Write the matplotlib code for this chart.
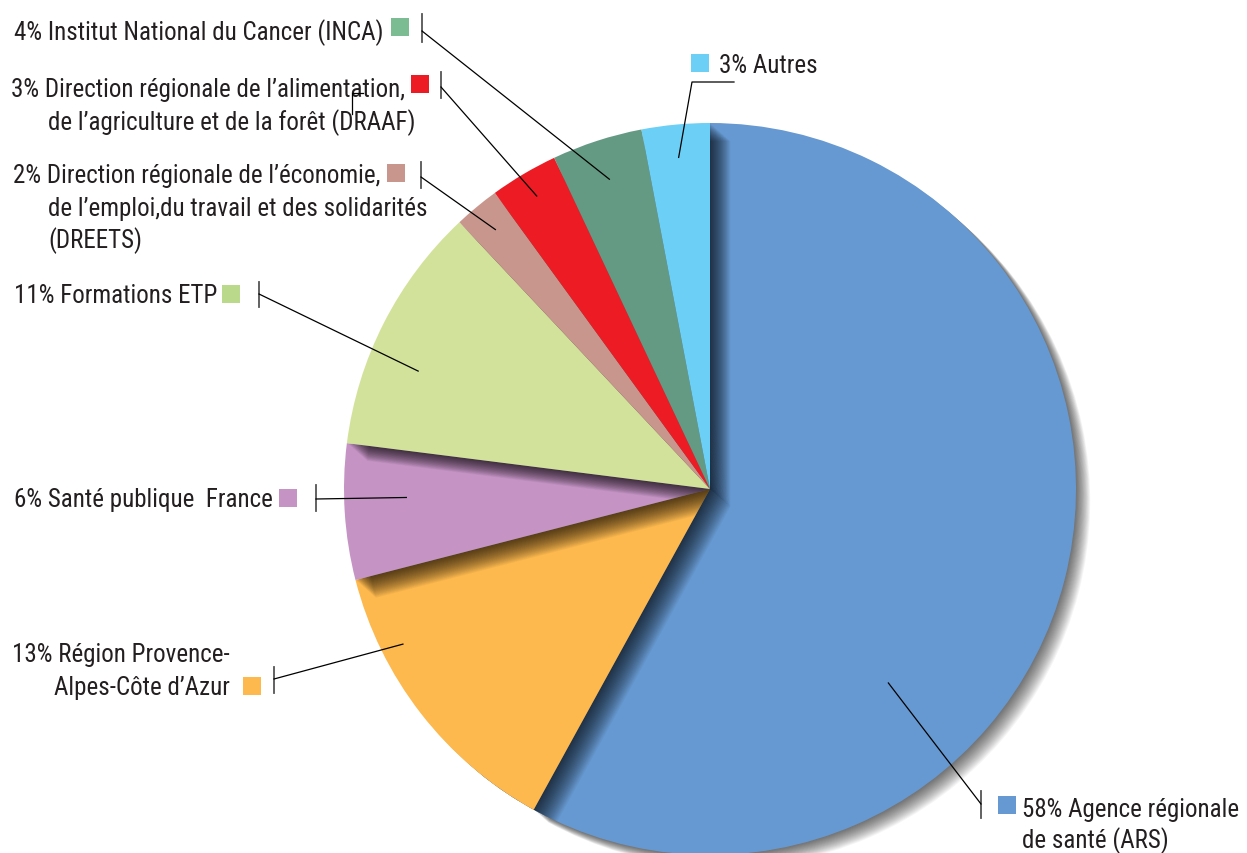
import matplotlib
matplotlib.use("Agg")
import matplotlib.pyplot as plt
from matplotlib.patches import Wedge, Circle, Rectangle
from matplotlib import font_manager
import numpy as np

# funding shares (%), pie runs clockwise from 12 o'clock
shares = [58, 13, 6, 11, 2, 3, 4, 3]
names = [
    ["Agence régionale", "de santé (ARS)"],
    ["Région Provence-", "Alpes-Côte d’Azur"],
    ["Santé publique  France"],
    ["Formations ETP"],
    ["Direction régionale de l’économie,", "de l’emploi,du travail et des solidarités", "(DREETS)"],
    ["Direction régionale de l’alimentation,", "de l’agriculture et de la forêt (DRAAF)"],
    ["Institut National du Cancer (INCA)"],
    ["Autres"],
]
slice_colors = ["#6699d1", "#fdb94e", "#c594c5", "#d2e29b",
                "#c9968d", "#ed1c24", "#649a83", "#6ccff6"]
key_colors = ["#6699d1", "#fdb94e", "#c594c5", "#bad98a",
              "#c9968d", "#ed1c24", "#7cbc93", "#6ccff6"]

W, H = 1247, 854
cx, cy, R = 710, H - 490, 366
TXT = "#231f20"

avail = {f.name for f in font_manager.fontManager.ttflist}
family = "DejaVu Sans"
for cand in ["Liberation Sans Narrow", "Roboto Condensed", "Open Sans Condensed"]:
    if cand in avail:
        family = cand
        break
fsize = 18 if family != "DejaVu Sans" else 14.5

# label layout in pixels from top-left: text lines (x, baseline, ha), key square, tick, anchor
layout = [
    dict(lines=[(1022, 817, "left"), (1022, 848, "left")], key=(998, 797), tick=(981, 792, 819, 805), anchor=(-33, 0.72)),
    dict(lines=[(230, 662, "right"), (230, 695, "right")], key=(243, 678), tick=(274, 668, 694, 680), anchor=(-11, 0.94)),
    dict(lines=[(14, 507, "left")], key=(279, 490), tick=(316, 486, 512, 500), anchor=(-2, 0.83)),
    dict(lines=[(14, 303, "left")], key=(222, 286), tick=(259, 283, 308, 295), anchor=(5, 0.86)),
    dict(lines=[(13, 183, "left"), (48, 216, "left"), (48, 248, "left")], key=(387, 165), tick=(421, 163, 189, 178), anchor=(0, 0.92)),
    dict(lines=[(11, 97, "left"), (48, 130, "left")], key=(411, 76), tick=(441, 73, 99, 88), anchor=(0, 0.93)),
    dict(lines=[(14, 40, "left")], key=(391, 19), tick=(422, 15, 43, 32), anchor=(0, 0.89)),
    dict(lines=[(719, 73, "left")], key=(691, 55), tick=None, anchor=(0, 0.91)),
]

fig = plt.figure(figsize=(W / 100, H / 100), dpi=100)
ax = fig.add_axes([0, 0, 1, 1])

wedges, _ = ax.pie(shares, colors=slice_colors, startangle=90, counterclock=False,
                   center=(cx, cy), radius=R, frame=True,
                   wedgeprops=dict(linewidth=0))
ax.set_xlim(0, W)
ax.set_ylim(0, H)
ax.set_aspect("equal")
ax.axis("off")

clip = Circle((cx, cy), R, transform=ax.transData)


def drop_shadow(w, z, size, steps, alpha, clipped=True):
    for k in range(1, steps + 1):
        d = size * k / steps
        s = Wedge((cx + d * 0.75, cy - d * 0.66), R, w.theta1, w.theta2,
                  facecolor="black", alpha=alpha, linewidth=0, zorder=z)
        ax.add_patch(s)
        if clipped:
            s.set_clip_path(clip)


for i, w in enumerate(wedges):
    w.set_zorder(2 * i + 2)
    if i == 0:
        drop_shadow(w, 1, 19, 18, 0.04, clipped=False)
    else:
        drop_shadow(w, 2 * i + 1, 27, 24, 0.04)

for i, (w, lay) in enumerate(zip(wedges, layout)):
    # label text, first line gets the percentage
    for j, (line, (x, yb, ha)) in enumerate(zip(names[i], lay["lines"])):
        s = f"{shares[i]}% {line}" if j == 0 else line
        ax.text(x, H - yb, s, ha=ha, va="baseline", fontsize=fsize,
                family=family, color=TXT, zorder=30)
    kx, ky = lay["key"]
    ax.add_patch(Rectangle((kx, H - ky - 18), 18, 18, facecolor=key_colors[i],
                           linewidth=0, zorder=30))
    mid = np.radians((w.theta1 + w.theta2) / 2 + lay["anchor"][0])
    r = R * lay["anchor"][1]
    axp, ayp = cx + r * np.cos(mid), cy + r * np.sin(mid)
    if lay["tick"] is not None:
        tx, y0, y1, yl = lay["tick"]
        ax.plot([tx, tx], [H - y0, H - y1], color="#555555", lw=1.3, zorder=30)
        ax.plot([tx, axp], [H - yl, ayp], color="black", lw=0.9, zorder=30)
    else:
        ax.plot([734, 692, axp], [H - 83, H - 83, ayp], color="black", lw=0.9, zorder=30)

# small stray mark in the DRAAF label
ax.plot([363, 352, 352], [H - 94, H - 94, H - 115], color="black", lw=0.9, zorder=31)

fig.savefig("out.png", dpi=100)
